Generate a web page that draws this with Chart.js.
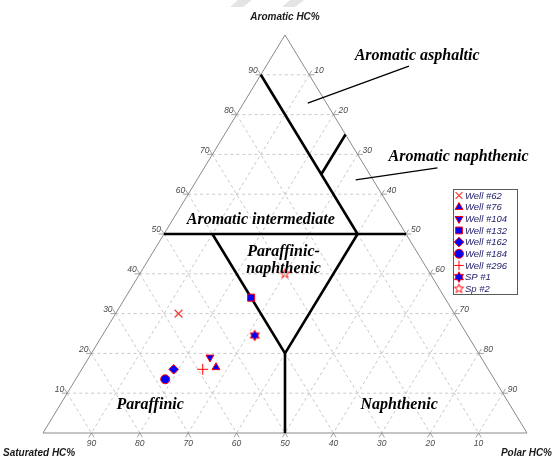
<!DOCTYPE html>
<html>
<head>
<meta charset="utf-8">
<script src="https://cdn.jsdelivr.net/npm/chart.js@4/dist/chart.umd.min.js"></script>
<style>
  html, body { margin: 0; padding: 0; background: #fff; }
  #c { display: block; }
</style>
</head>
<body>
<canvas id="c" width="553" height="459"></canvas>
<script>
// Sample compositions (percent of saturated / aromatic / polar hydrocarbons)
const sampleNames   = ['Well #62', 'Well #76', 'Well #104', 'Well #132', 'Well #162', 'Well #184', 'Well #296', 'SP #1', 'Sp #2'];
const saturatedPct  = [57, 56, 56, 40, 65, 68, 59, 44, 30];
const aromaticPct   = [30, 16.5, 19, 34, 16, 13.5, 16, 24.5, 40];
const polarPct      = [13, 27.5, 25, 26, 19, 18.5, 25, 31.5, 30];

// Tick values along each triangle edge
const gridTicks = [10, 20, 30, 40, 50, 60, 70, 80, 90];

// Oil-class field boundaries, each a polyline of [saturated, aromatic, polar]
const fieldBoundaries = [
  [[50, 50, 0], [0, 50, 50]],
  [[10, 90, 0], [10, 50, 40], [40, 20, 40]],
  [[40, 50, 10], [40, 20, 40], [50, 0, 50]],
  [[10, 65, 25], [0, 75, 25]]
];

// Leader lines from the class names to their fields (plot x / y units)
const leaderLines = [
  [[54.7, 82.9], [75.6, 92.2]],
  [[64.6, 63.6], [81.5, 66.6]]
];

// Class names with anchor (plot x / y units, left edge & baseline)
const fieldNames = ['Aromatic asphaltic', 'Aromatic naphthenic', 'Aromatic intermediate', 'Paraffinic-', 'naphthenic', 'Paraffinic', 'Naphthenic'];
const fieldNameX = [64.4, 71.4, 29.7, 42.2, 42.0, 15.2, 65.6];
const fieldNameY = [93.7, 68.3, 52.5, 44.5, 40.1, 6.0, 6.0];

// ternary -> cartesian: x runs from saturated apex (0) to polar apex (100), y is aromatic %
function tern(s, a, p) { return { x: p + a / 2, y: a }; }

function polylineData(lines) {
  const out = [];
  lines.forEach(line => {
    line.forEach(pt => out.push(pt));
    out.push({ x: line[line.length - 1].x, y: null });
  });
  return out;
}

// dashed grid
const gridSegs = [];
gridTicks.forEach(k => {
  gridSegs.push([tern(100 - k, k, 0), tern(0, k, 100 - k)]);   // aromatic = k
  gridSegs.push([tern(k, 100 - k, 0), tern(k, 0, 100 - k)]);   // saturated = k
  gridSegs.push([tern(0, 100 - k, k), tern(100 - k, 0, k)]);   // polar = k
});

// short tick marks continuing the grid past the edges
const e = 1.1;
const tickSegs = [];
gridTicks.forEach(k => {
  const l = tern(100 - k, k, 0);
  tickSegs.push([l, tern(100 - k + e, k, -e)]);
  tickSegs.push([l, tern(100 - k, k + e, -e)]);
  const b = tern(k, 0, 100 - k);
  tickSegs.push([b, tern(k, -e, 100 - k + e)]);
  tickSegs.push([b, tern(k + e, -e, 100 - k)]);
  const r = tern(0, 100 - k, k);
  tickSegs.push([r, tern(-e, 100 - k, k + e)]);
  tickSegs.push([r, tern(-e, 100 - k + e, k)]);
});

const frame = [[tern(100, 0, 0), tern(0, 0, 100), tern(0, 100, 0), tern(100, 0, 0)]];
const boundarySegs = fieldBoundaries.map(line => line.map(p => tern(p[0], p[1], p[2])));
const leaderSegs = leaderLines.map(line => line.map(p => ({ x: p[0], y: p[1] })));

// star-shaped marker images
function starImage(n, outer, inner, fill, stroke) {
  const size = Math.ceil(outer * 2 + 3);
  const c = document.createElement('canvas');
  c.width = size; c.height = size;
  const g = c.getContext('2d');
  const cx = size / 2, cy = size / 2;
  g.beginPath();
  for (let i = 0; i < n * 2; i++) {
    const r = i % 2 === 0 ? outer : inner;
    const ang = -Math.PI / 2 + i * Math.PI / n;
    const px = cx + r * Math.cos(ang), py = cy + r * Math.sin(ang);
    if (i === 0) g.moveTo(px, py); else g.lineTo(px, py);
  }
  g.closePath();
  if (fill) { g.fillStyle = fill; g.fill(); }
  g.lineWidth = 1; g.strokeStyle = stroke; g.stroke();
  return c;
}

const BLUE = '#0000ff', RED = '#ff0000';
const markerStyles = [
  { pointStyle: 'crossRot', radius: 5.5, bg: 'rgba(0,0,0,0)', border: '#ff3c3c', bw: 1.3, rot: 0 },
  { pointStyle: 'triangle', radius: 4.6, bg: BLUE, border: RED, bw: 1, rot: 0 },
  { pointStyle: 'triangle', radius: 4.6, bg: BLUE, border: RED, bw: 1, rot: 180 },
  { pointStyle: 'rect', radius: 5, bg: BLUE, border: RED, bw: 1, rot: 0 },
  { pointStyle: 'rectRot', radius: 4.8, bg: BLUE, border: RED, bw: 1, rot: 0 },
  { pointStyle: 'circle', radius: 4.5, bg: BLUE, border: RED, bw: 1, rot: 0 },
  { pointStyle: 'cross', radius: 5.5, bg: 'rgba(0,0,0,0)', border: RED, bw: 1, rot: 0 },
  { pointStyle: starImage(6, 5.2, 3.0, BLUE, RED), radius: 5, bg: BLUE, border: RED, bw: 1, rot: 0 },
  { pointStyle: starImage(5, 4.8, 2.0, null, RED), radius: 4.8, bg: 'rgba(0,0,0,0)', border: RED, bw: 1, rot: 0 }
];

const sampleDatasets = sampleNames.map((name, i) => {
  const m = markerStyles[i];
  return {
    label: name,
    data: [tern(saturatedPct[i], aromaticPct[i], polarPct[i])],
    showLine: false,
    pointStyle: m.pointStyle,
    pointRadius: m.radius,
    pointRotation: m.rot,
    pointBackgroundColor: m.bg,
    pointBorderColor: m.border,
    pointBorderWidth: m.bw,
    order: 0,
    clip: false
  };
});

function lineSet(label, segs, color, width, dash, order) {
  return {
    label, data: polylineData(segs), showLine: true, spanGaps: false,
    borderColor: color, borderWidth: width, borderDash: dash,
    pointRadius: 0, pointHoverRadius: 0, order, clip: false,
    borderCapStyle: 'butt', borderJoinStyle: 'miter'
  };
}

const structureDatasets = [
  lineSet('boundaries', boundarySegs, '#000', 2.6, [], 1),
  lineSet('leaders', leaderSegs, '#000', 1.3, [], 2),
  lineSet('frame', frame, '#8a8a8a', 1, [], 3),
  lineSet('ticks', tickSegs, '#8a8a8a', 0.8, [], 4),
  lineSet('grid', gridSegs, '#c8c8c8', 1, [3, 3], 5)
];

// text overlays: axis titles, tick labels, class names, legend
const overlayPlugin = {
  id: 'ternaryText',
  beforeDraw(chart) {
    const ctx = chart.ctx;
    ctx.save();
    ctx.fillStyle = '#fff';
    ctx.fillRect(0, 0, chart.width, chart.height);
    ctx.fillStyle = '#e4e4e4';
    ctx.beginPath();
    ctx.moveTo(238, 0); ctx.lineTo(252, 0); ctx.lineTo(243, 7); ctx.lineTo(230, 7); ctx.closePath(); ctx.fill();
    ctx.beginPath();
    ctx.moveTo(290, 0); ctx.lineTo(304, 0); ctx.lineTo(295, 7); ctx.lineTo(282, 7); ctx.closePath(); ctx.fill();
    ctx.restore();
  },
  afterDatasetsDraw(chart) {
    const ctx = chart.ctx;
    const xs = chart.scales.x, ys = chart.scales.y;
    const px = v => xs.getPixelForValue(v), py = v => ys.getPixelForValue(v);
    ctx.save();

    // tick labels
    ctx.font = 'italic 8.5px "Liberation Sans", Arial, sans-serif';
    ctx.fillStyle = '#4a4a4a';
    ctx.textBaseline = 'middle';
    gridTicks.forEach(k => {
      const l = tern(100 - k, k, 0);
      ctx.textAlign = 'right';
      ctx.fillText(String(k), px(l.x) - 3, py(l.y) - 4);
      const r = tern(0, 100 - k, k);
      ctx.textAlign = 'left';
      ctx.fillText(String(k), px(r.x) + 5, py(r.y) - 4);
      const b = tern(k, 0, 100 - k);
      ctx.textAlign = 'center';
      ctx.fillText(String(k), px(b.x), py(b.y) + 11);
    });

    // axis titles
    ctx.font = 'bold italic 10px "Liberation Sans", Arial, sans-serif';
    ctx.fillStyle = '#1a1a1a';
    ctx.textAlign = 'center';
    ctx.fillText('Aromatic HC%', px(50), 17);
    ctx.textAlign = 'left';
    ctx.fillText('Saturated HC%', 3, 453);
    ctx.textAlign = 'right';
    ctx.fillText('Polar HC%', 552, 453);

    // class names
    ctx.font = 'bold italic 16px "Liberation Serif", "Times New Roman", serif';
    ctx.fillStyle = '#000';
    ctx.textAlign = 'left';
    ctx.textBaseline = 'alphabetic';
    fieldNames.forEach((t, i) => ctx.fillText(t, px(fieldNameX[i]), py(fieldNameY[i])));

    // legend
    const lx = 453, ly = 189, lw = 64, lh = 105, rowH = 11.65;
    ctx.fillStyle = '#fff';
    ctx.fillRect(lx, ly, lw, lh);
    ctx.strokeStyle = '#5a5a5a';
    ctx.lineWidth = 1;
    ctx.strokeRect(lx + 0.5, ly + 0.5, lw, lh);
    ctx.font = 'italic 9.5px "Liberation Sans", Arial, sans-serif';
    ctx.textBaseline = 'middle';
    sampleDatasets.forEach((ds, i) => {
      const cy = ly + 6.5 + i * rowH;
      const m = markerStyles[i];
      ctx.save();
      ctx.fillStyle = m.bg;
      ctx.strokeStyle = m.border;
      ctx.lineWidth = m.bw;
      const r = Math.min(m.radius, 4.8);
      if (Chart.helpers && Chart.helpers.drawPoint) {
        Chart.helpers.drawPoint(ctx, { pointStyle: m.pointStyle, rotation: m.rot, radius: r, borderWidth: m.bw }, 459, cy);
      } else {
        ctx.beginPath(); ctx.arc(459, cy, r, 0, Math.PI * 2); ctx.fill(); ctx.stroke();
      }
      ctx.restore();
      ctx.fillStyle = '#1c1c6a';
      ctx.textAlign = 'left';
      ctx.fillText(ds.label, 465, cy + 0.5);
    });
    ctx.restore();
  }
};

new Chart(document.getElementById('c'), {
  type: 'scatter',
  data: { datasets: [...sampleDatasets, ...structureDatasets] },
  options: {
    responsive: false,
    animation: false,
    devicePixelRatio: 1,
    events: [],
    layout: { padding: { left: 43, right: 26, top: 35, bottom: 26 } },
    scales: {
      x: { type: 'linear', min: 0, max: 100, display: false },
      y: { type: 'linear', min: 0, max: 100, display: false }
    },
    plugins: { legend: { display: false }, tooltip: { enabled: false } }
  },
  plugins: [overlayPlugin]
});
</script>
</body>
</html>
